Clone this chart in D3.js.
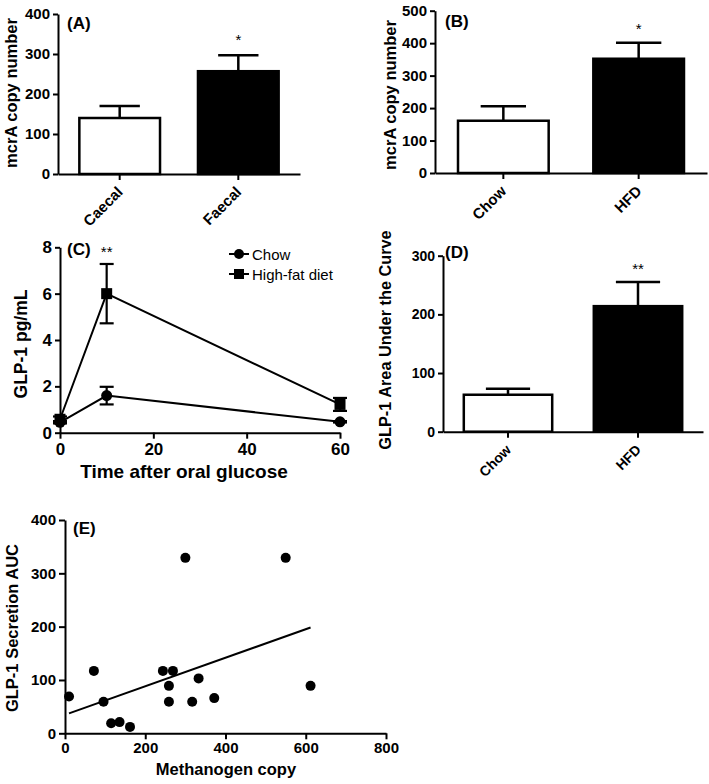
<!DOCTYPE html>
<html><head><meta charset="utf-8">
<script src="https://cdn.jsdelivr.net/npm/d3@7"></script>
<style>
body{margin:0;background:#fff;}
svg{display:block;font-family:"Liberation Sans",Arial,sans-serif;}
</style></head><body>
<svg id="chart" width="709" height="784"></svg>
<script>
// ---- Panel A ----
const catsA = ["Caecal", "Faecal"];
const meanA = [140, 257];
const semA = [30, 40];
const ticksA = [0, 100, 200, 300, 400];
// ---- Panel B ----
const catsB = ["Chow", "HFD"];
const meanB = [161, 352];
const semB = [45, 49];
const ticksB = [0, 100, 200, 300, 400, 500];
// ---- Panel C ----
const timeC = [0, 10, 60];
const chowC = [0.45, 1.6, 0.47];
const chowSemC = [0.05, 0.38, 0.03];
const hfdC = [0.58, 6.0, 1.22];
const hfdSemC = [0.12, 1.28, 0.28];
const ticksCx = [0, 20, 40, 60];
const ticksCy = [0, 2, 4, 6, 8];
const legendC = ["Chow", "High-fat diet"];
// ---- Panel D ----
const catsD = ["Chow", "HFD"];
const meanD = [63, 214];
const semD = [10, 41];
const ticksD = [0, 100, 200, 300];
// ---- Panel E ----
const methE = [10, 72, 96, 115, 136, 162, 244, 269, 259, 259, 300, 317, 333, 372, 550, 612];
const glpE = [69, 117, 59, 19, 21, 12, 117, 117, 89, 59, 329, 59, 103, 66, 329, 89];
const ticksEx = [0, 200, 400, 600, 800];
const ticksEy = [0, 100, 200, 300, 400];

const svg = d3.select("#chart");
const FILLS = ["#ffffff", "#000000"];

function styleAxis(g, fs) {
  g.selectAll("path.domain").attr("stroke", "#000").attr("stroke-width", 2);
  g.selectAll(".tick line").attr("stroke", "#000").attr("stroke-width", 2);
  g.selectAll(".tick text").attr("fill", "#000").style("font-size", fs + "px").style("font-weight", "bold");
  g.attr("font-family", null);
}

function barPanel(o) {
  const g = svg.append("g");
  const y = d3.scaleLinear().domain([0, o.yMax]).range([o.yBot, o.yTop]);
  const x = d3.scaleBand().domain(o.cats).range([o.xL, o.xR]).paddingInner(o.pin).paddingOuter(o.pout);
  const bw = x.bandwidth();
  // bars
  g.selectAll("rect.bar").data(o.cats).join("rect")
    .attr("x", d => x(d)).attr("width", bw)
    .attr("y", (d, i) => y(o.means[i])).attr("height", (d, i) => y(0) - y(o.means[i]))
    .attr("fill", (d, i) => FILLS[i]).attr("stroke", "#000").attr("stroke-width", 2.5);
  // error bars (upper only)
  o.cats.forEach((c, i) => {
    const cx = x(c) + bw / 2;
    g.append("line").attr("x1", cx).attr("x2", cx).attr("y1", y(o.means[i])).attr("y2", y(o.means[i] + o.sems[i]))
      .attr("stroke", "#000").attr("stroke-width", 2.5);
    g.append("line").attr("x1", cx - bw * 0.25).attr("x2", cx + bw * 0.25)
      .attr("y1", y(o.means[i] + o.sems[i])).attr("y2", y(o.means[i] + o.sems[i]))
      .attr("stroke", "#000").attr("stroke-width", 2.5);
  });
  // y axis
  const ya = g.append("g").attr("transform", `translate(${o.xL},0)`)
    .call(d3.axisLeft(y).tickValues(o.ticks).tickSize(5).tickPadding(3).tickSizeOuter(0));
  styleAxis(ya, o.tickFs);
  // x axis
  const xa = g.append("g").attr("transform", `translate(0,${o.yBot})`)
    .call(d3.axisBottom(x).tickSize(6).tickSizeOuter(0));
  styleAxis(xa, o.tickFs);
  xa.selectAll(".tick text").remove();
  o.cats.forEach(c => {
    const cx = x(c) + bw / 2;
    g.append("text").attr("transform", `translate(${cx + 4},${o.yBot + 19}) rotate(-45)`)
      .attr("text-anchor", "end").style("font-size", o.tickFs + "px").style("font-weight", "bold").text(c);
  });
  // y label
  g.append("text").attr("transform", `translate(${o.labX},${(o.labY)}) rotate(-90)`)
    .attr("text-anchor", "middle").attr("dy", "0.35em")
    .style("font-size", o.labFs + "px").style("font-weight", "bold").text(o.ylabel);
  // panel tag
  g.append("text").attr("x", o.tagX).attr("y", o.tagY).style("font-size", "17px").style("font-weight", "bold").text(o.tag);
  // significance
  const hi = o.cats.length - 1;
  g.append("text").attr("x", x(o.cats[hi]) + bw / 2).attr("y", o.starY).attr("text-anchor", "middle")
    .style("font-size", "15px").text(o.stars);
}

barPanel({cats: catsA, means: meanA, sems: semA, ticks: ticksA, yMax: 400, yBot: 174, yTop: 14,
  xL: 58, xR: 300, pin: 0.32, pout: 0.18, tickFs: 15, ylabel: "mcrA copy number", labX: 11, labY: 93, labFs: 16.5,
  tag: "(A)", tagX: 67, tagY: 29, stars: "*", starY: 45});
barPanel({cats: catsB, means: meanB, sems: semB, ticks: ticksB, yMax: 500, yBot: 173, yTop: 10.7,
  xL: 435, xR: 707, pin: 0.33, pout: 0.17, tickFs: 15, ylabel: "mcrA copy number", labX: 390, labY: 95, labFs: 16.5,
  tag: "(B)", tagX: 445, tagY: 27, stars: "*", starY: 34});
barPanel({cats: catsD, means: meanD, sems: semD, ticks: ticksD, yMax: 300, yBot: 431.7, yTop: 255.7,
  xL: 443, xR: 703, pin: 0.32, pout: 0.16, tickFs: 14, ylabel: "GLP-1 Area Under the Curve", labX: 385, labY: 340, labFs: 16.3,
  tag: "(D)", tagX: 445, tagY: 258, stars: "**", starY: 274});

// ---- Panel C ----
(function () {
  const g = svg.append("g");
  const x = d3.scaleLinear().domain([0, 60]).range([60, 340]);
  const y = d3.scaleLinear().domain([0, 8]).range([432.7, 247.3]);
  const series = [
    {vals: chowC, sems: chowSemC, shape: "circle"},
    {vals: hfdC, sems: hfdSemC, shape: "square"}
  ];
  const line = d3.line().x(d => x(d[0])).y(d => y(d[1]));
  series.forEach(s => {
    const pts = timeC.map((t, i) => [t, s.vals[i], s.sems[i]]);
    g.append("path").attr("d", line(pts)).attr("fill", "none").attr("stroke", "#000").attr("stroke-width", 2);
    pts.forEach(p => {
      const cx = x(p[0]);
      g.append("line").attr("x1", cx).attr("x2", cx).attr("y1", y(p[1] - p[2])).attr("y2", y(p[1] + p[2]))
        .attr("stroke", "#000").attr("stroke-width", 2.2);
      [p[1] - p[2], p[1] + p[2]].forEach(v => {
        g.append("line").attr("x1", cx - 7).attr("x2", cx + 7).attr("y1", y(v)).attr("y2", y(v))
          .attr("stroke", "#000").attr("stroke-width", 2.2);
      });
      if (s.shape === "circle") {
        g.append("circle").attr("cx", cx).attr("cy", y(p[1])).attr("r", 5.5).attr("fill", "#000");
      } else {
        g.append("rect").attr("x", cx - 5.5).attr("y", y(p[1]) - 5.5).attr("width", 11).attr("height", 11).attr("fill", "#000");
      }
    });
  });
  const ya = g.append("g").attr("transform", "translate(60,0)")
    .call(d3.axisLeft(y).tickValues(ticksCy).tickSize(5).tickPadding(3).tickSizeOuter(0));
  styleAxis(ya, 17);
  const xa = g.append("g").attr("transform", "translate(0,432.7)")
    .call(d3.axisBottom(x).tickValues(ticksCx).tickSize(6).tickPadding(4).tickSizeOuter(0));
  styleAxis(xa, 17);
  g.append("text").attr("x", 184).attr("y", 478).attr("text-anchor", "middle")
    .style("font-size", "19px").style("font-weight", "bold").text("Time after oral glucose");
  g.append("text").attr("transform", "translate(21,344) rotate(-90)").attr("text-anchor", "middle").attr("dy", "0.35em")
    .style("font-size", "17.5px").style("font-weight", "bold").text("GLP-1 pg/mL");
  g.append("text").attr("x", 67).attr("y", 255).style("font-size", "17px").style("font-weight", "bold").text("(C)");
  g.append("text").attr("x", x(10)).attr("y", 257).attr("text-anchor", "middle").style("font-size", "15px").text("**");
  // legend
  legendC.forEach((name, i) => {
    const ly = 254 + i * 20;
    g.append("line").attr("x1", 229).attr("x2", 249).attr("y1", ly).attr("y2", ly).attr("stroke", "#000").attr("stroke-width", 2);
    if (i === 0) g.append("circle").attr("cx", 239).attr("cy", ly).attr("r", 5).attr("fill", "#000");
    else g.append("rect").attr("x", 234).attr("y", ly - 5).attr("width", 10).attr("height", 10).attr("fill", "#000");
    g.append("text").attr("x", 252).attr("y", ly + 5.5).style("font-size", "15px").text(name);
  });
})();

// ---- Panel E ----
(function () {
  const g = svg.append("g");
  const x = d3.scaleLinear().domain([0, 800]).range([65, 386]);
  const y = d3.scaleLinear().domain([0, 400]).range([733.3, 520]);
  // regression
  const n = methE.length;
  const mx = d3.mean(methE), my = d3.mean(glpE);
  let sxy = 0, sxx = 0;
  for (let i = 0; i < n; i++) { sxy += (methE[i] - mx) * (glpE[i] - my); sxx += (methE[i] - mx) ** 2; }
  const slope = sxy / sxx, icpt = my - slope * mx;
  const [xmin, xmax] = d3.extent(methE);
  g.append("line").attr("x1", x(xmin)).attr("x2", x(xmax)).attr("y1", y(icpt + slope * xmin)).attr("y2", y(icpt + slope * xmax))
    .attr("stroke", "#000").attr("stroke-width", 2);
  g.selectAll("circle").data(methE).join("circle")
    .attr("cx", d => x(d)).attr("cy", (d, i) => y(glpE[i])).attr("r", 5).attr("fill", "#000");
  const ya = g.append("g").attr("transform", "translate(65,0)")
    .call(d3.axisLeft(y).tickValues(ticksEy).tickSize(6).tickPadding(3).tickSizeOuter(0));
  styleAxis(ya, 15);
  const xa = g.append("g").attr("transform", "translate(0,733.3)")
    .call(d3.axisBottom(x).tickValues(ticksEx).tickSize(6).tickPadding(3).tickSizeOuter(0));
  styleAxis(xa, 15);
  g.append("text").attr("x", 226).attr("y", 775).attr("text-anchor", "middle")
    .style("font-size", "16.5px").style("font-weight", "bold").text("Methanogen copy");
  g.append("text").attr("transform", "translate(12,628) rotate(-90)").attr("text-anchor", "middle").attr("dy", "0.35em")
    .style("font-size", "16.5px").style("font-weight", "bold").text("GLP-1 Secretion AUC");
  g.append("text").attr("x", 73).attr("y", 534).style("font-size", "17px").style("font-weight", "bold").text("(E)");
})();
</script>
</body></html>
